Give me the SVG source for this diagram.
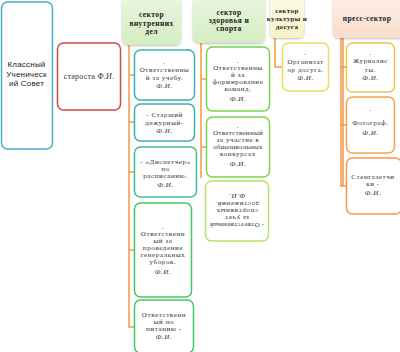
<svg xmlns="http://www.w3.org/2000/svg" width="400" height="352" viewBox="0 0 400 352">
<defs>
<linearGradient id="gGreen" x1="0" y1="0" x2="0" y2="1"><stop offset="0" stop-color="#eaf6e0"/><stop offset="1" stop-color="#d3edc0"/></linearGradient>
<linearGradient id="gYellow" x1="0" y1="0" x2="0" y2="1"><stop offset="0" stop-color="#fdfbe6"/><stop offset="1" stop-color="#f7f2c4"/></linearGradient>
<linearGradient id="gPink" x1="0" y1="0" x2="0" y2="1"><stop offset="0" stop-color="#fdf0e8"/><stop offset="1" stop-color="#f9dccd"/></linearGradient>
<filter id="sh" x="-20%" y="-20%" width="140%" height="140%"><feDropShadow dx="0" dy="1" stdDeviation="1" flood-color="#000" flood-opacity="0.25"/></filter>
</defs>
<style>
.box{fill:#fff;stroke-width:1.5}
.hdr{stroke:none;filter:url(#sh)}
.t{font-family:"Liberation Serif","DejaVu Serif",serif;font-size:7px;letter-spacing:0.6px;fill:#333;text-anchor:middle}
.h{font-family:"Liberation Serif","DejaVu Serif",serif;font-size:7.5px;font-weight:bold;letter-spacing:0.4px;fill:#222;text-anchor:middle}
.s{font-family:"Liberation Sans","Arial",sans-serif;font-size:8px;letter-spacing:0.2px;fill:#222;text-anchor:middle}
.i{font-style:italic}
.c{fill:none;stroke:#f79646;stroke-width:1.5}
</style>
<g id="connectors">
<path class="c" d="M129,45 V327 H134 M129,75 H134 M129,122 H134 M129,172 H134 M129,250 H134"/>
<path class="c" d="M201,43 V178 M201,79 H206 M201,147 H206"/>
<path class="c" d="M275,38 V67 H282"/>
<path class="c" d="M341,38 V186 H346 M341,67 H346 M341,125 H346"/>
<path class="c" d="M343,38 V186" stroke-width="1"/>
</g>
<g id="sovet">
<rect class="box" x="1.5" y="2" width="51" height="147" rx="6" stroke="#4bacc6"/>
<text class="s" x="26.5" y="67">Классный</text>
<text class="s" x="26.5" y="76.5">Ученическ</text>
<text class="s" x="26.5" y="86">ий Совет</text>
</g>
<g id="starosta">
<rect class="box" x="57.5" y="43" width="63" height="67" rx="6" stroke="#cc4a4a"/>
<text class="t" x="89" y="79" style="font-size:8px;letter-spacing:0.2px">староста <tspan class="i">Ф.И.</tspan></text>
</g>
<g id="h1">
<rect class="hdr" x="122" y="-4" width="59" height="49" rx="6" fill="url(#gGreen)"/>
<text class="h" x="151.5" y="17">сектор</text>
<text class="h" x="151.5" y="26">внутренних</text>
<text class="h" x="151.5" y="34">дел</text>
</g>
<g id="h2">
<rect class="hdr" x="193" y="-4" width="72" height="47" rx="6" fill="url(#gGreen)"/>
<text class="h" x="229" y="15">сектор</text>
<text class="h" x="229" y="23">здоровья и</text>
<text class="h" x="229" y="31">спорта</text>
</g>
<g id="h3">
<rect class="hdr" x="270" y="-4" width="34" height="42" rx="5" fill="url(#gYellow)"/>
<text class="h" x="287" y="13" style="font-size:7px">сектор</text>
<text class="h" x="287" y="21" style="font-size:7px">культуры и</text>
<text class="h" x="287" y="29" style="font-size:7px">досуга</text>
</g>
<g id="h4">
<rect class="hdr" x="333" y="-4" width="72" height="42" rx="6" fill="url(#gPink)"/>
<text class="h" x="367" y="21">пресс-сектор</text>
</g>
<g id="a">
<rect class="box" x="134.5" y="50" width="60" height="50" rx="6" stroke="#38b3b0"/>
<text class="t" x="164.5" y="64">.</text>
<text class="t" x="164.5" y="72">Ответственны</text>
<text class="t" x="164.5" y="80">й за учебу.</text>
<text class="t i" x="164.5" y="88">Ф.И.</text>
</g>
<g id="b">
<rect class="box" x="134.5" y="104" width="60" height="37" rx="6" stroke="#38b3a8"/>
<text class="t" x="164.5" y="117">- Старший</text>
<text class="t" x="164.5" y="125">дежурный-</text>
<text class="t i" x="164.5" y="133">Ф.И.</text>
</g>
<g id="c">
<rect class="box" x="134.5" y="147" width="62" height="50" rx="6" stroke="#3ebf96"/>
<text class="t" x="165.5" y="164">- «Диспетчер»</text>
<text class="t" x="165.5" y="171">по</text>
<text class="t" x="165.5" y="178">расписанию.</text>
<text class="t i" x="165.5" y="187">Ф.И.</text>
</g>
<g id="d">
<rect class="box" x="134.5" y="203" width="57" height="94" rx="6" stroke="#45c766"/>
<text class="t" x="163" y="229">.</text>
<text class="t" x="163" y="236">Ответственн</text>
<text class="t" x="163" y="243">ый за</text>
<text class="t" x="163" y="250">проведение</text>
<text class="t" x="163" y="257">генеральных</text>
<text class="t" x="163" y="264">уборок.</text>
<text class="t i" x="163" y="274">Ф.И.</text>
</g>
<g id="e">
<rect class="box" x="134.5" y="300" width="59" height="53" rx="6" stroke="#45c766"/>
<text class="t" x="164" y="317">Ответственн</text>
<text class="t" x="164" y="324">ый по</text>
<text class="t" x="164" y="331">питанию -</text>
<text class="t i" x="164" y="339">Ф.И.</text>
</g>
<g id="f">
<rect class="box" x="206.5" y="47" width="63" height="64" rx="6" stroke="#78d24a"/>
<text class="t" x="238" y="63">.</text>
<text class="t" x="238" y="70">Ответственны</text>
<text class="t" x="238" y="77">й за</text>
<text class="t" x="238" y="84">формирование</text>
<text class="t" x="238" y="91">команд.</text>
<text class="t i" x="238" y="101">Ф.И.</text>
</g>
<g id="g">
<rect class="box" x="206.5" y="117" width="63" height="60" rx="6" stroke="#7ed34e"/>
<text class="t" x="238" y="128">.</text>
<text class="t" x="238" y="135" style="letter-spacing:0.3px">Ответственный</text>
<text class="t" x="238" y="142">за участие в</text>
<text class="t" x="238" y="149" style="letter-spacing:0.3px">общешкольных</text>
<text class="t" x="238" y="156">конкурсах</text>
<text class="t i" x="238" y="166">Ф.И.</text>
</g>
<g id="hh">
<rect class="box" x="205.5" y="181" width="63" height="60" rx="6" stroke="#b6e26a"/>
<g transform="rotate(180 237 211)">
<text class="t" x="237" y="199" style="letter-spacing:0.3px">- Ответственный</text>
<text class="t" x="237" y="206">за учет</text>
<text class="t" x="237" y="213">спортивных</text>
<text class="t" x="237" y="220">достижений.</text>
<text class="t i" x="237" y="228">Ф.И.</text>
</g>
</g>
<g id="org">
<rect class="box" x="282.5" y="43" width="46" height="48" rx="6" stroke="#e6e05a"/>
<text class="t" x="305.5" y="55">.</text>
<text class="t" x="305.5" y="64">Организат</text>
<text class="t" x="305.5" y="72">ор досуга.</text>
<text class="t i" x="305.5" y="80">Ф.И.</text>
</g>
<g id="i">
<rect class="box" x="346.5" y="43" width="48" height="49" rx="6" stroke="#f2c24a"/>
<text class="t" x="370.5" y="55">.</text>
<text class="t" x="370.5" y="63">Журналис</text>
<text class="t" x="370.5" y="72">ты.</text>
<text class="t i" x="370.5" y="80">Ф.И.</text>
</g>
<g id="j">
<rect class="box" x="346.5" y="97" width="48" height="56" rx="6" stroke="#f5a54a"/>
<text class="t" x="370.5" y="111">.</text>
<text class="t" x="370.5" y="125">Фотограф.</text>
<text class="t i" x="370.5" y="135">Ф.И.</text>
</g>
<g id="k">
<rect class="box" x="346.5" y="158" width="55" height="56" rx="6" stroke="#f79646"/>
<text class="t" x="373" y="179">Стенгазетчи</text>
<text class="t" x="373" y="186">ки -</text>
<text class="t i" x="373" y="195">Ф.И.</text>
</g>
</svg>
